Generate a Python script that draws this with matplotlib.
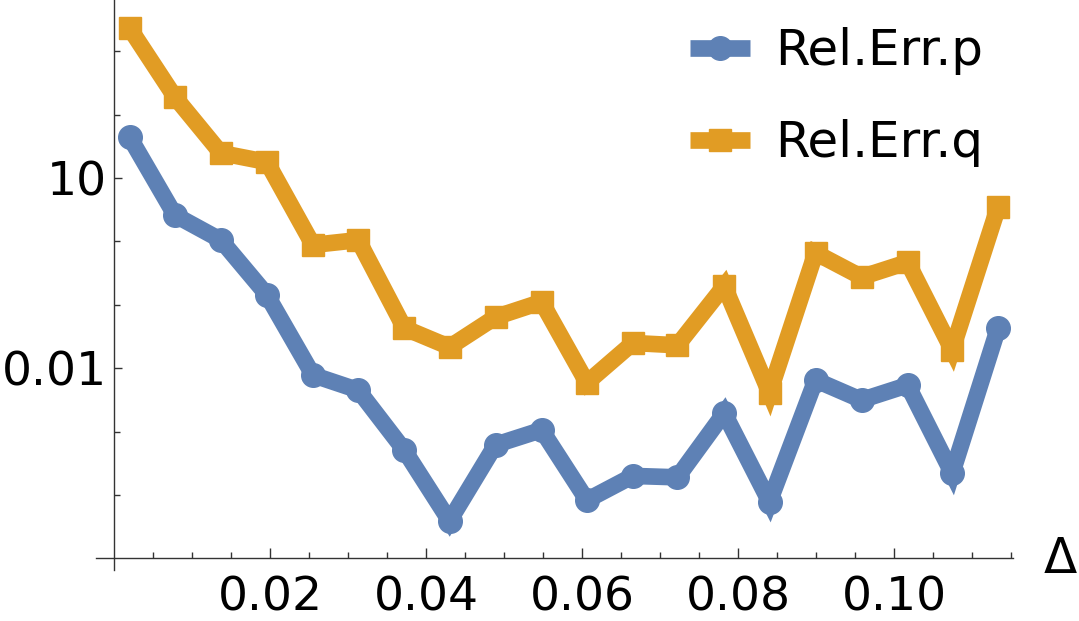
import numpy as np
import matplotlib
matplotlib.use("Agg")
import matplotlib.pyplot as plt
from matplotlib.ticker import FixedLocator, NullFormatter

# values (log-scale y)
delta = [0.0020, 0.0078, 0.0137, 0.0196, 0.0255, 0.0313, 0.0372, 0.0430, 0.0489, 0.0548,
         0.0606, 0.0665, 0.0722, 0.0782, 0.0840, 0.0899, 0.0958, 0.1017, 0.1074, 0.1133]
rel_err_p = [44.3, 2.61, 1.05, 0.143, 0.0078, 0.0045, 5.1e-4, 3.9e-5, 6.2e-4, 1.06e-3,
             8.3e-5, 2.0e-4, 1.9e-4, 1.96e-3, 7.8e-5, 6.5e-3, 3.15e-3, 5.4e-3, 2.2e-4, 0.043]
rel_err_q = [2320, 190, 24.8, 17.9, 0.88, 1.05, 0.043, 0.0216, 0.064, 0.111,
             0.0059, 0.025, 0.023, 0.198, 0.0041, 0.66, 0.274, 0.47, 0.0194, 3.5]
labels = ["Rel.Err.p", "Rel.Err.q"]
x_ticks = [0.02, 0.04, 0.06, 0.08, 0.10]
x_ticklabels = ["0.02", "0.04", "0.06", "0.08", "0.10"]
y_ticks = [10, 0.01]
y_ticklabels = ["10", "0.01"]

blue, orange = "#5E81B5", "#E19C24"
axcol = "#333333"

fig = plt.figure(figsize=(10.79, 6.21), dpi=100)
ax = fig.add_axes([96 / 1079, 1 - 570 / 621, (1013 - 96) / 1079, 570 / 621])
ax.set_yscale("log")

ax.plot(delta, rel_err_p, color=blue, lw=12, marker="o", ms=17,
        solid_joinstyle="miter", solid_capstyle="butt", label=labels[0], clip_on=False)
ax.plot(delta, rel_err_q, color=orange, lw=12, marker="s", ms=16.5,
        solid_joinstyle="miter", solid_capstyle="butt", label=labels[1], clip_on=False)

ax.set_xlim(-0.0023, 0.1152)
ax.set_ylim(10 ** -5.183, 10 ** 3.808)

for s in ("top", "right"):
    ax.spines[s].set_visible(False)
ax.spines["left"].set_position(("data", 0))
ax.spines["bottom"].set_position(("data", 1e-5))
for s in ("left", "bottom"):
    ax.spines[s].set_color(axcol)
    ax.spines[s].set_linewidth(1.0)

ax.xaxis.set_major_locator(FixedLocator(x_ticks))
ax.set_xticklabels(x_ticklabels)
ax.xaxis.set_minor_locator(FixedLocator(np.arange(0.005, 0.1151, 0.005)))
ax.yaxis.set_major_locator(FixedLocator(y_ticks))
ax.set_yticklabels(y_ticklabels)
ax.yaxis.set_minor_locator(FixedLocator([1e3, 1e2, 1, 0.1, 1e-3, 1e-4]))
ax.yaxis.set_minor_formatter(NullFormatter())

ax.tick_params(axis="both", which="both", direction="in", color=axcol, width=1.0,
               labelsize=34, labelcolor="black")
ax.tick_params(axis="x", which="major", length=7.5, pad=12)
ax.tick_params(axis="x", which="minor", length=4.5)
ax.tick_params(axis="y", which="major", length=6, pad=5)
ax.tick_params(axis="y", which="minor", length=4)

fig.text(1060 / 1079, 1 - 559 / 621, "Δ", fontsize=35, ha="center", va="center")

leg = ax.legend(loc="upper left", bbox_to_anchor=(690 / 1079, 1 - 27 / 621),
                bbox_transform=fig.transFigure, frameon=False, fontsize=36,
                handlelength=1.2, handletextpad=0.5, labelspacing=0.88, borderpad=0,
                borderaxespad=0)

fig.savefig("out.png", dpi=100, facecolor="white")
